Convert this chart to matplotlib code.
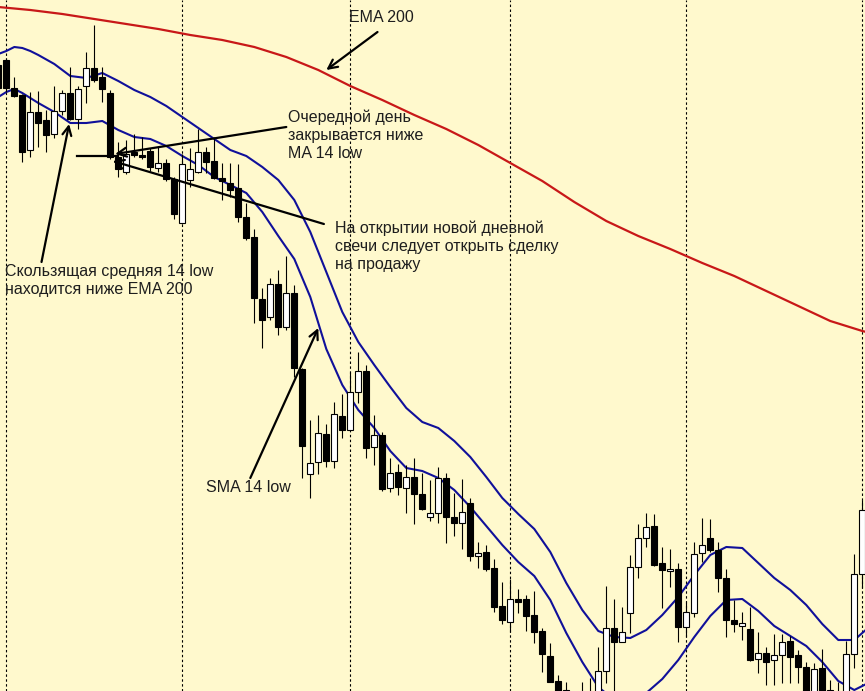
import matplotlib
matplotlib.use("Agg")
import matplotlib.pyplot as plt
import numpy as np

# daily candles, index -1 is the partly hidden bar at the left edge
opens = [1.2935, 1.2940, 1.2912, 1.2905, 1.2850, 1.2888, 1.2880, 1.2866, 1.2889, 1.2907,
         1.2881, 1.2914, 1.2932, 1.2923, 1.2907, 1.2843, 1.2828, 1.2848, 1.2845, 1.2849,
         1.2832, 1.2837, 1.2821, 1.2777, 1.2820, 1.2828, 1.2848, 1.2839, 1.2822, 1.2817,
         1.2812, 1.2783, 1.2763, 1.2701, 1.2683, 1.2716, 1.2673, 1.2707, 1.2631, 1.2526,
         1.2538, 1.2566, 1.2539, 1.2584, 1.2570, 1.2608, 1.2629, 1.2553, 1.2565, 1.2512,
         1.2528, 1.2512, 1.2523, 1.2506, 1.2483, 1.2487, 1.2522, 1.2483, 1.2477, 1.2497,
         1.2444, 1.2448, 1.2432, 1.2394, 1.2378, 1.2401, 1.2401, 1.2385, 1.2369, 1.2344,
         1.2319, 1.2310, 1.2300, 1.2292, 1.2295, 1.2300, 1.2329, 1.2372, 1.2358, 1.2387,
         1.2433, 1.2462, 1.2474, 1.2437, 1.2429, 1.2431, 1.2373, 1.2387, 1.2447, 1.2462,
         1.2450, 1.2422, 1.2380, 1.2374, 1.2371, 1.2341, 1.2347, 1.2340, 1.2345, 1.2359,
         1.2345, 1.2333, 1.2300, 1.2332, 1.2310, 1.2306, 1.2300, 1.2346, 1.2426]
highs = [1.2940, 1.2942, 1.2923, 1.2906, 1.2908, 1.2909, 1.2890, 1.2914, 1.2910, 1.2933,
         1.2914, 1.2948, 1.2975, 1.2933, 1.2910, 1.2858, 1.2860, 1.2866, 1.2863, 1.2852,
         1.2853, 1.2841, 1.2823, 1.2846, 1.2852, 1.2871, 1.2853, 1.2863, 1.2837, 1.2837,
         1.2836, 1.2797, 1.2771, 1.2712, 1.2722, 1.2730, 1.2744, 1.2715, 1.2632, 1.2580,
         1.2585, 1.2576, 1.2598, 1.2606, 1.2628, 1.2648, 1.2635, 1.2585, 1.2568, 1.2542,
         1.2536, 1.2535, 1.2542, 1.2527, 1.2520, 1.2533, 1.2527, 1.2507, 1.2521, 1.2502,
         1.2458, 1.2455, 1.2441, 1.2418, 1.2421, 1.2411, 1.2405, 1.2409, 1.2372, 1.2357,
         1.2325, 1.2318, 1.2306, 1.2318, 1.2322, 1.2353, 1.2414, 1.2401, 1.2393, 1.2445,
         1.2476, 1.2487, 1.2486, 1.2453, 1.2451, 1.2437, 1.2398, 1.2458, 1.2482, 1.2481,
         1.2458, 1.2431, 1.2400, 1.2388, 1.2393, 1.2368, 1.2353, 1.2366, 1.2366, 1.2364,
         1.2350, 1.2338, 1.2337, 1.2351, 1.2320, 1.2318, 1.2359, 1.2446, 1.2500]
lows = [1.2905, 1.2908, 1.2903, 1.2838, 1.2843, 1.2853, 1.2848, 1.2862, 1.2885, 1.2880,
        1.2871, 1.2897, 1.2918, 1.2898, 1.2841, 1.2823, 1.2826, 1.2843, 1.2841, 1.2829,
        1.2828, 1.2819, 1.2781, 1.2776, 1.2813, 1.2827, 1.2827, 1.2821, 1.2800, 1.2803,
        1.2778, 1.2760, 1.2677, 1.2652, 1.2680, 1.2665, 1.2670, 1.2623, 1.2522, 1.2502,
        1.2526, 1.2533, 1.2532, 1.2562, 1.2570, 1.2597, 1.2542, 1.2535, 1.2509, 1.2508,
        1.2505, 1.2487, 1.2476, 1.2490, 1.2479, 1.2477, 1.2457, 1.2464, 1.2451, 1.2439,
        1.2432, 1.2429, 1.2388, 1.2376, 1.2368, 1.2387, 1.2369, 1.2357, 1.2328, 1.2318,
        1.2295, 1.2285, 1.2282, 1.2288, 1.2290, 1.2295, 1.2317, 1.2300, 1.2358, 1.2367,
        1.2422, 1.2453, 1.2434, 1.2392, 1.2413, 1.2358, 1.2363, 1.2383, 1.2438, 1.2448,
        1.2408, 1.2363, 1.2368, 1.2360, 1.2339, 1.2327, 1.2315, 1.2315, 1.2317, 1.2317,
        1.2317, 1.2295, 1.2294, 1.2298, 1.2292, 1.2290, 1.2295, 1.2332, 1.2412]
closes = [1.2912, 1.2912, 1.2904, 1.2848, 1.2888, 1.2877, 1.2865, 1.2889, 1.2907, 1.2881,
          1.2911, 1.2932, 1.2920, 1.2911, 1.2843, 1.2831, 1.2846, 1.2845, 1.2843, 1.2833,
          1.2837, 1.2821, 1.2786, 1.2836, 1.2831, 1.2848, 1.2838, 1.2822, 1.2819, 1.2810,
          1.2783, 1.2762, 1.2702, 1.2680, 1.2716, 1.2673, 1.2707, 1.2632, 1.2554, 1.2537,
          1.2567, 1.2539, 1.2586, 1.2570, 1.2608, 1.2629, 1.2552, 1.2565, 1.2511, 1.2527,
          1.2513, 1.2523, 1.2506, 1.2491, 1.2487, 1.2522, 1.2483, 1.2477, 1.2488, 1.2444,
          1.2447, 1.2431, 1.2393, 1.2380, 1.2401, 1.2398, 1.2384, 1.2368, 1.2346, 1.2318,
          1.2300, 1.2292, 1.2288, 1.2305, 1.2306, 1.2329, 1.2372, 1.2358, 1.2368, 1.2433,
          1.2462, 1.2473, 1.2435, 1.2430, 1.2431, 1.2373, 1.2388, 1.2446, 1.2455, 1.2450,
          1.2422, 1.2380, 1.2376, 1.2377, 1.2340, 1.2347, 1.2338, 1.2345, 1.2358, 1.2343,
          1.2333, 1.2300, 1.2331, 1.2303, 1.2298, 1.2296, 1.2346, 1.2426, 1.2490]

# moving averages (bar index -> price)
ma_idx = [-1, 0, 1, 2, 3, 4, 6, 8, 10, 12, 14, 16, 18, 20, 22, 24, 26, 28, 30, 32, 34,
          36, 38, 40, 42, 44, 46, 48, 50, 52, 54, 56, 58, 60, 62, 64, 66, 68, 70, 72,
          74, 76, 78, 80, 82, 84, 86, 88, 90, 92, 94, 96, 98, 100, 102, 104, 106, 108]
sma_high = [1.2946, 1.2949, 1.2953, 1.2952, 1.2949, 1.2945, 1.2936, 1.2924, 1.2922, 1.2927,
            1.2919, 1.2910, 1.2903, 1.2894, 1.2883, 1.2872, 1.2861, 1.2850, 1.2844, 1.2833,
            1.2820, 1.2800, 1.2768, 1.2728, 1.2688, 1.2658, 1.2635, 1.2613, 1.2592, 1.2578,
            1.2572, 1.2559, 1.2543, 1.2523, 1.2502, 1.2486, 1.2471, 1.2448, 1.2417, 1.2390,
            1.2369, 1.2363, 1.2362, 1.2370, 1.2385, 1.2403, 1.2425, 1.2445, 1.2453, 1.2452,
            1.2437, 1.2422, 1.2410, 1.2395, 1.2376, 1.2360, 1.2360, 1.2374]
sma_low = [1.2903, 1.2908, 1.2911, 1.2907, 1.2902, 1.2897, 1.2888, 1.2877, 1.2877, 1.2879,
           1.2870, 1.2863, 1.2861, 1.2854, 1.2844, 1.2835, 1.2823, 1.2815, 1.2807, 1.2788,
           1.2764, 1.2741, 1.2703, 1.2651, 1.2615, 1.2590, 1.2572, 1.2549, 1.2532, 1.2529,
           1.2522, 1.2510, 1.2493, 1.2474, 1.2455, 1.2438, 1.2424, 1.2400, 1.2367, 1.2338,
           1.2313, 1.2300, 1.2297, 1.2307, 1.2321, 1.2340, 1.2363, 1.2384, 1.2400, 1.2401,
           1.2389, 1.2374, 1.2364, 1.2354, 1.2338, 1.2319, 1.2310, 1.2318]

ema_idx = [-1, 3, 7, 11, 15, 19, 23, 27, 31, 35, 39, 43, 47, 51, 55, 59, 63, 67, 71,
           75, 79, 83, 87, 91, 95, 99, 103, 107, 108]
ema_200 = [1.2993, 1.2990, 1.2986, 1.2981, 1.2976, 1.2971, 1.2965, 1.2960, 1.2953, 1.2943,
           1.2930, 1.2914, 1.2900, 1.2885, 1.2871, 1.2855, 1.2837, 1.2819, 1.2798,
           1.2779, 1.2764, 1.2751, 1.2737, 1.2724, 1.2709, 1.2694, 1.2679, 1.2669, 1.2667]

month_lines = [0, 22, 43, 63, 85, 107]

BG = "#fff9cd"
INK = "#1e1e1e"
plt.rcParams["font.family"] = ["Liberation Sans", "DejaVu Sans"]

idx = np.arange(-1, len(opens) - 1)
o, h, l, c = map(np.array, (opens, highs, lows, closes))
up = c >= o

fig = plt.figure(figsize=(8.65, 6.91), dpi=100, facecolor=BG)
ax = fig.add_axes([0, 0, 1, 1], facecolor=BG)

for m in month_lines:
    ax.axvline(m, color="black", lw=0.8, ls=(0, (2.2, 2.2)), zorder=1)

ax.plot(ema_idx, ema_200, color="#c81818", lw=1.6, zorder=2)
ax.plot(ma_idx, sma_high, color="#10109a", lw=1.5, zorder=2)
ax.plot(ma_idx, sma_low, color="#10109a", lw=1.5, zorder=2)

ax.vlines(idx, l, h, color="black", lw=0.8, zorder=3)
body_lo = np.minimum(o, c)
body_h = np.maximum(np.abs(c - o), 0.00012)
ax.bar(idx[up], body_h[up], bottom=body_lo[up], width=0.72,
       color="white", edgecolor="black", lw=0.8, zorder=4)
ax.bar(idx[~up], body_h[~up], bottom=body_lo[~up], width=0.72,
       color="black", edgecolor="black", lw=0.8, zorder=4)

ax.set_xlim(-0.79, 107.34)
ax.set_ylim(1.2309, 1.3000)
ax.axis("off")

arrow = dict(arrowstyle="->", color="black", lw=1.6, mutation_scale=16,
             shrinkA=0, shrinkB=0)
fs = 11.5
ls = 1.25

ax.text(42.8, 1.2982, "EMA 200", fontsize=fs, color=INK, va="center")
ax.annotate("", xy=(40.0, 1.2930), xytext=(46.4, 1.2968), arrowprops=arrow, zorder=6)

ax.text(35.2, 1.2891, "Очередной день\nзакрывается ниже\nMA 14 low",
        fontsize=fs, color=INK, va="top", linespacing=ls)
ax.annotate("", xy=(13.6, 1.2846), xytext=(35.0, 1.2873), arrowprops=arrow, zorder=6)
ax.plot([8.8, 13.8], [1.2844, 1.2844], color="black", lw=1.6, zorder=6)

ax.text(41.1, 1.2780, "На открытии новой дневной\nсвечи следует открыть сделку\nна продажу",
        fontsize=fs, color=INK, va="top", linespacing=ls)
ax.annotate("", xy=(13.3, 1.2839), xytext=(39.7, 1.2776), arrowprops=arrow, zorder=6)

ax.text(-0.2, 1.2736, "Скользящая средняя 14 low\nнаходится ниже EMA 200",
        fontsize=fs, color=INK, va="top", linespacing=ls)
ax.annotate("", xy=(7.85, 1.2876), xytext=(4.4, 1.2738), arrowprops=arrow, zorder=6)

ax.text(25.0, 1.2512, "SMA 14 low", fontsize=fs, color=INK, va="center")
ax.annotate("", xy=(39.0, 1.2672), xytext=(30.5, 1.2522), arrowprops=arrow, zorder=6)

fig.savefig("out.png", dpi=100, facecolor=BG)
